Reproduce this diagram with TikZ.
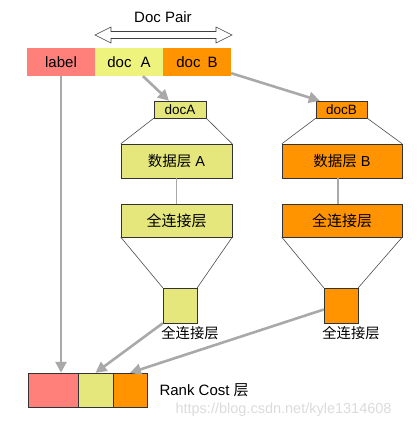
\documentclass[tikz,border=0pt]{standalone}
\usepackage{fontspec}
\setmainfont{Liberation Sans}
\newfontfamily\cjk{Noto Sans CJK SC}
\usetikzlibrary{arrows.meta}
\definecolor{pinker}{HTML}{FF7F7B}
\definecolor{ylwtop}{HTML}{EEF37E}
\definecolor{ylw}{HTML}{E5E77D}
\definecolor{oranger}{HTML}{FF9300}
\definecolor{grayer}{HTML}{A9A9A9}

\begin{document}
\begin{tikzpicture}[x=1pt,y=-1pt,bar/.style={minimum height=28pt,inner sep=0pt,font=\fontsize{15}{17}\selectfont},box/.style={draw=black!80,minimum height=34pt,inner sep=0pt,font=\fontsize{14.5}{17}\selectfont},sml/.style={draw=black!80,minimum width=52pt,minimum height=17pt,inner sep=0pt,font=\fontsize{13.5}{15}\selectfont},sq/.style={draw=black!80,minimum width=34pt,minimum height=35pt,inner sep=0pt},fun/.style={black!70,line width=.6pt},arr/.style={grayer,line width=2.6pt,-{Triangle[length=11pt,width=11pt]}},sublbl/.style={font=\cjk\fontsize{14.3}{16}\selectfont}]
\useasboundingbox (0,0) rectangle (418,428);

%input bar
\node[bar,fill=pinker,minimum width=68pt] (lbl) at (61,62) {label};
\node[bar,fill=ylwtop,minimum width=68pt] (dA) at (129,62) {doc\hspace{9pt}A};
\node[bar,fill=oranger,minimum width=68pt] (dB) at (197,62) {doc\hspace{7pt}B};

%doc pair arrow
\draw[black!75,fill=white,line width=.6pt] (95,35) -- (111,27) -- (111,31.5) -- (216,31.5) -- (216,27) -- (232,35) -- (216,43) -- (216,38.5) -- (111,38.5) -- (111,43) -- cycle;
\node[font=\fontsize{15}{17}\selectfont] (dp) at (163,17) {Doc Pair};

%tower A
\node[sml,fill=ylw] (sA) at (180,109.5) {docA};
\node[box,fill=ylw,minimum width=111pt] (datA) at (176.5,161) {{\cjk 数据层} A};
\node[box,fill=ylw,minimum width=111pt,minimum height=33pt,font=\cjk\fontsize{15}{17}\selectfont] (fcA) at (176.5,220.5) {全连接层};
\node[sq,fill=ylw] (sqA) at (180,305.5) {};
\node[sublbl] (tA) at (190,333) {全连接层};
\draw[fun] (sA.south west) -- (datA.north west);
\draw[fun] (sA.south east) -- (datA.north east);
\draw[grayer,line width=1.4pt] (datA.south) -- (fcA.north);
\draw[fun] (fcA.south west) -- (sqA.north west);
\draw[fun] (fcA.south east) -- (sqA.north east);

%tower B
\node[sml,fill=oranger,minimum width=51pt] (sB) at (341.5,109.5) {docB};
\node[box,fill=oranger,minimum width=120pt] (datB) at (342,161) {{\cjk 数据层} B};
\node[box,fill=oranger,minimum width=120pt,minimum height=33pt,font=\cjk\fontsize{15}{17}\selectfont] (fcB) at (342,220.5) {全连接层};
\node[sq,fill=oranger] (sqB) at (341,305.5) {};
\node[sublbl] (tB) at (351,333) {全连接层};
\draw[fun] (sB.south west) -- (datB.north west);
\draw[fun] (sB.south east) -- (datB.north east);
\draw[grayer,line width=1.4pt] ([xshift=-4pt]datB.south) -- ([xshift=-4pt]fcB.north);
\draw[fun] (fcB.south west) -- (sqB.north west);
\draw[fun] (fcB.south east) -- (sqB.north east);

%rank cost
\node[box,fill=pinker,minimum width=50pt] (r1) at (53,390) {};
\node[box,fill=ylw,minimum width=35pt] (r2) at (95.5,390) {};
\node[box,fill=oranger,minimum width=34pt] (r3) at (130,390) {};
\node[anchor=west,font=\fontsize{15}{17}\selectfont] (rc) at (156,390) {Rank Cost {\cjk 层}};
\node[anchor=west,text=black!14,font=\fontsize{14.5}{17}\selectfont] (wm) at (172,410) {https://blog.csdn.net/kyle1314608};

%gray arrows
\draw[arr] (lbl.south) -- (lbl.south |- r1.north);
\draw[arr] ([xshift=14pt]dA.south) -- ([xshift=-11pt]sA.north);
\draw[arr] ([yshift=3pt]dB.south east) -- ([xshift=4pt]sB.north west);
\draw[arr] (sqA.south west) -- (r2.north);
\draw[arr] ([yshift=-4pt]sqB.west) -- (r3.north);
\end{tikzpicture}
\end{document}
